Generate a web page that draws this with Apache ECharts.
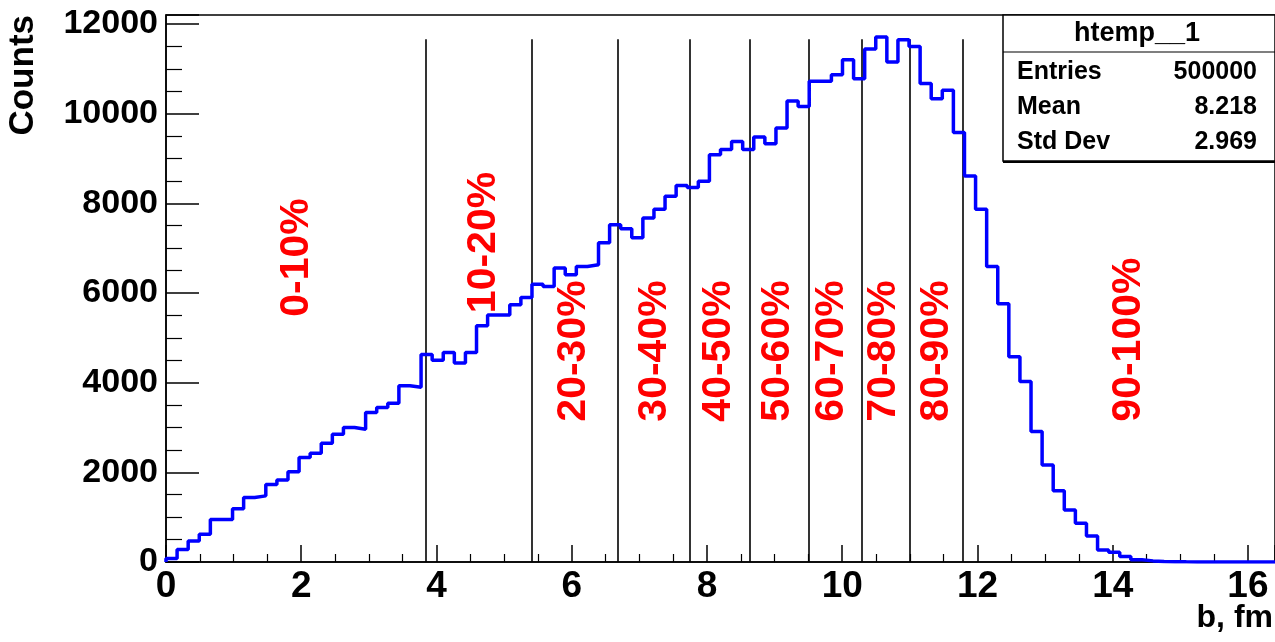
<!DOCTYPE html>
<html>
<head>
<meta charset="utf-8">
<script src="https://cdn.jsdelivr.net/npm/echarts@6/dist/echarts.min.js"></script>
<style>
html,body{margin:0;padding:0;background:#fff;}
#chart{width:1275px;height:642px;}
</style>
</head>
<body>
<div id="chart"></div>
<script>
// ---- data ----
const binWidth = 0.164;           // 100 bins from 0 to 16.4 fm
const xMax = 16.4;
const yMax = 12200;
const counts = [
  80, 280, 470, 620, 950, 950, 1190, 1440, 1475, 1730,
  1830, 2015, 2330, 2425, 2650, 2850, 3000, 2960, 3335, 3445,
  3540, 3930, 3900, 4630, 4500, 4670, 4440, 4670, 5270, 5510,
  5510, 5740, 5900, 6195, 6145, 6555, 6405, 6590, 6628, 7120,
  7520, 7430, 7230, 7670, 7870, 8160, 8400, 8350, 8490, 9085,
  9200, 9380, 9200, 9480, 9330, 9680, 10280, 10160, 10720, 10720,
  10870, 11200, 10780, 11440, 11710, 11150, 11650, 11500, 10670, 10330,
  10520, 9580, 8610, 7870, 6590, 5760, 4580, 4025, 2910, 2165,
  1590, 1160, 865, 580, 270, 215, 120, 50, 25, 12,
  6, 3, 1, 0, 0, 0, 0, 0, 0, 0
];
const cutPositions = [3.845, 5.408, 6.674, 7.749, 8.626, 9.505, 10.288, 10.992, 11.782];
const cutTop = 11660;
const classLabels = ['0-10%', '10-20%', '20-30%', '30-40%', '40-50%', '50-60%', '60-70%', '70-80%', '80-90%', '90-100%'];
const labelX = [1.93, 4.70, 6.03, 7.22, 8.18, 9.04, 9.85, 10.62, 11.39, 14.24];
const labelY = [5470, 5550, 3130, 3130, 3130, 3130, 3130, 3130, 3130, 3130];
const statTitle = 'htemp__1';
const statNames = ['Entries', 'Mean', 'Std Dev'];
const statValues = ['500000', '8.218', '2.969'];
const xTitle = 'b, fm';
const yTitle = 'Counts';

// ---- build step outline from bins ----
const histPoints = [[0, 0]];
counts.forEach((c, i) => histPoints.push([i * binWidth, c]));
histPoints.push([counts.length * binWidth, counts[counts.length - 1]]);

const FONT = 'Liberation Sans, Arial, Helvetica, sans-serif';
const chart = echarts.init(document.getElementById('chart'), null, {renderer: 'canvas'});

const statRowsY = [72, 107, 142];
const statGraphics = [];
statGraphics.push({type: 'rect', shape: {x: 1003, y: 15, width: 272, height: 146}, style: {fill: '#fff', stroke: '#000', lineWidth: 1.5}, z: 100});
statGraphics.push({type: 'line', shape: {x1: 1003, y1: 162, x2: 1275, y2: 162}, style: {stroke: '#000', lineWidth: 2}, z: 101});
statGraphics.push({type: 'line', shape: {x1: 1003, y1: 52, x2: 1275, y2: 52}, style: {stroke: '#000', lineWidth: 1.2}, z: 101});
statGraphics.push({type: 'text', x: 1137, y: 34, z: 102, style: {text: statTitle, font: 'bold 27px ' + FONT, fill: '#000', align: 'center', verticalAlign: 'middle'}});
statNames.forEach((n, i) => {
  statGraphics.push({type: 'text', x: 1017, y: statRowsY[i], z: 102, style: {text: n, font: 'bold 25px ' + FONT, fill: '#000', align: 'left', verticalAlign: 'middle'}});
  statGraphics.push({type: 'text', x: 1257, y: statRowsY[i], z: 102, style: {text: statValues[i], font: 'bold 25px ' + FONT, fill: '#000', align: 'right', verticalAlign: 'middle'}});
});

const option = {
  animation: false,
  backgroundColor: '#fff',
  grid: {left: 166, right: 0, top: 15, bottom: 80, show: true, borderColor: '#000', borderWidth: 1.5, backgroundColor: 'transparent'},
  xAxis: {
    type: 'value', min: 0, max: xMax, interval: 2,
    axisLine: {show: true, onZero: false, lineStyle: {color: '#000', width: 1.5}},
    axisTick: {show: true, inside: true, length: 17, lineStyle: {color: '#000', width: 1.5}},
    minorTick: {show: true, splitNumber: 4, length: 8, lineStyle: {color: '#000', width: 1.2}},
    splitLine: {show: false},
    axisLabel: {show: true, color: '#000', fontSize: 37, fontWeight: 'bold', fontFamily: FONT, margin: 6, showMaxLabel: false}
  },
  yAxis: {
    type: 'value', min: 0, max: yMax, interval: 2000,
    axisLine: {show: true, lineStyle: {color: '#000', width: 1.5}},
    axisTick: {show: true, inside: true, length: 33, lineStyle: {color: '#000', width: 1.5}},
    minorTick: {show: true, splitNumber: 4, length: 16, lineStyle: {color: '#000', width: 1.2}},
    splitLine: {show: false},
    axisLabel: {show: true, color: '#000', fontSize: 34, fontWeight: 'bold', fontFamily: FONT, margin: 8, showMaxLabel: false,
      formatter: v => String(v)}
  },
  series: [
    {
      type: 'line', name: 'cuts', data: [], silent: true,
      markLine: {
        silent: true, symbol: ['none', 'none'], animation: false,
        label: {show: false},
        lineStyle: {color: '#000', width: 1.6, type: 'solid', opacity: 1},
        emphasis: {disabled: true},
        data: cutPositions.map(x => [{coord: [x, 0]}, {coord: [x, cutTop]}])
      }
    },
    {
      type: 'line', name: 'htemp', data: histPoints, step: 'end', symbol: 'none',
      lineStyle: {color: '#0000ff', width: 3.5}, z: 5, silent: true
    },
    {
      type: 'scatter', name: 'classes', silent: true, z: 6,
      data: labelX.map((x, i) => [x, labelY[i], classLabels[i]]),
      symbolSize: 0,
      itemStyle: {color: 'transparent', opacity: 1},
      label: {
        show: true, position: [0, 0], rotate: 90, align: 'left', verticalAlign: 'middle',
        formatter: p => p.value[2], opacity: 1,
        color: '#ff0000', fontSize: 41, fontWeight: 'bold', fontFamily: FONT
      }
    }
  ],
  graphic: [
    {type: 'text', x: 23, y: 15, rotation: Math.PI / 2, style: {text: yTitle, font: 'bold 35px ' + FONT, fill: '#000', align: 'right', verticalAlign: 'middle'}},
    {type: 'text', x: 1273, y: 618, style: {text: xTitle, font: 'bold 32px ' + FONT, fill: '#000', align: 'right', verticalAlign: 'middle'}}
  ].concat(statGraphics)
};
chart.setOption(option);
</script>
</body>
</html>
